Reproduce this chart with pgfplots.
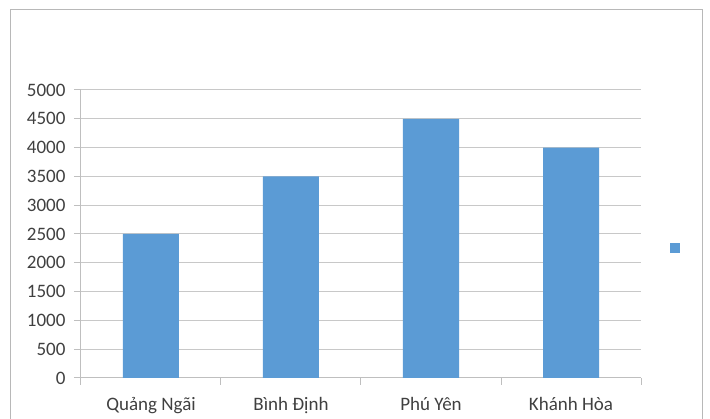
\documentclass[border=0pt]{standalone}
\usepackage{pgfplots}
\pgfplotsset{compat=1.18}
\usepackage{fontspec}
\setmainfont{Carlito}
\definecolor{barblue}{HTML}{5B9BD5}
\definecolor{gridgray}{HTML}{C8C8C8}
\definecolor{axisgray}{HTML}{BFBFBF}
\definecolor{framegray}{HTML}{B8B8B8}
\definecolor{txt}{HTML}{404040}
\begin{document}
\begin{tikzpicture}[x=1pt,y=1pt]
\useasboundingbox (-81,-41) rectangle (629,378);
\draw[framegray,line width=1pt] (-70,-50) rectangle (621,368);
\begin{axis}[
  at={(0,0)}, anchor=south west,
  scale only axis,
  width=560pt, height=288pt,
  xmin=-0.5, xmax=3.5,
  ymin=0, ymax=5000,
  ytick={0,500,...,5000},
  xtick={0,1,2,3},
  xticklabels={Quảng Ngãi, Bình Định, Phú Yên, Khánh Hòa},
  minor xtick={-0.5,0.5,1.5,2.5,3.5},
  major x tick style={draw=none},
  minor tick length=7pt,
  major tick length=7pt,
  tick align=outside,
  axis x line*=bottom,
  axis y line*=left,
  axis line style={axisgray, line width=1pt, -},
  tick style={axisgray, line width=1pt},
  ymajorgrids,
  major grid style={gridgray, line width=1pt},
  /pgf/number format/assume math mode=true,
  /pgf/number format/1000 sep={},
  ticklabel style={font=\fontsize{19}{22}\selectfont, text=txt},
  xticklabel style={yshift=-9pt},
  yticklabel style={xshift=-5pt},
  ybar, bar width=56pt,
  legend style={draw=none, fill=none, at={(1.064,0.451)}, anchor=center, inner sep=0pt},
  legend image code/.code={\fill[barblue] (-5pt,-5pt) rectangle (5pt,5pt);},
]
\addplot[fill=barblue, draw=none] coordinates {(0,2500) (1,3500) (2,4500) (3,4000)};
\addlegendentry{}
\end{axis}
\end{tikzpicture}
\end{document}
